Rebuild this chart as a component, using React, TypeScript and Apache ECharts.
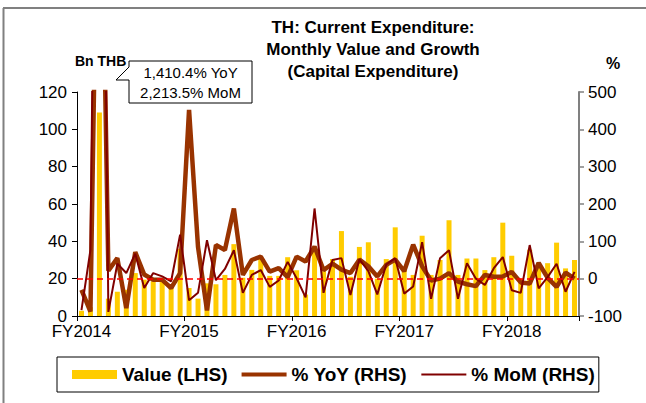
import React, { useEffect, useRef } from "react";
import * as echarts from "echarts";

const months = [
  "Oct-13","Nov-13","Dec-13","Jan-14","Feb-14","Mar-14","Apr-14","May-14","Jun-14","Jul-14","Aug-14","Sep-14",
  "Oct-14","Nov-14","Dec-14","Jan-15","Feb-15","Mar-15","Apr-15","May-15","Jun-15","Jul-15","Aug-15","Sep-15",
  "Oct-15","Nov-15","Dec-15","Jan-16","Feb-16","Mar-16","Apr-16","May-16","Jun-16","Jul-16","Aug-16","Sep-16",
  "Oct-16","Nov-16","Dec-16","Jan-17","Feb-17","Mar-17","Apr-17","May-17","Jun-17","Jul-17","Aug-17","Sep-17",
  "Oct-17","Nov-17","Dec-17","Jan-18","Feb-18","Mar-18","Apr-18","May-18",
];

const fyLabels = ["FY2014", "FY2015", "FY2016", "FY2017", "FY2018"];

const valueBn = [
  2.8, 4.7, 109, 9.3, 13, 14, 23, 19.5, 18.6, 18.6, 16, 36,
  15, 9.3, 17.5, 17, 22, 38.5, 20.5, 24.7, 31, 21.5, 21.5, 31.5,
  24.5, 11.5, 34.5, 24, 30.5, 45.5, 21, 37, 39.5, 20, 30.5, 47.5,
  25, 22, 43, 22, 30, 51.3, 22, 30.8, 30.8, 24.6, 31.5, 50,
  32.3, 20, 35.5, 28.5, 28.3, 39.3, 25.5, 30,
];

const yoyPct = [
  -30, -88, 1410.4, 21, 55, -79, 71, 11, -3, -3, -25, 15,
  452, 85, -85, 90, 77, 188, 10, 50, 59, 19, 28, 4,
  59, 46, 86, 23, 40, 24, 15, 51, 33, 6, 37, 51,
  20, 91, 33, -5, 0, 15, -8, -15, -20, 10, 5, 6,
  18, -10, -13, 42, 2, -22, 16, 0,
];

const momPct = [
  -84, 77, 2213.5, -89, 40, 15, 67, -25, 15, 6, -7, 118,
  -58, -38, 103, -4, 26, 76, -38, 10, 23, -22, -5, 45,
  1, -50, 188, -38, 50, 55, -44, 52, 20, -42, 38, 55,
  -40, -21, 98, -54, 55, 76, -54, 41, 0, -17, 28, 58,
  -31, -38, 90, -26, 4, 40, -35, 18,
];

const leftTicks = { min: 0, max: 120, interval: 20 };
const rightTicks = { min: -100, max: 500, interval: 100 };

const FONT = "'Liberation Sans', Arial, sans-serif";

// legend icons (bounding box 45 x 9 so that line thickness is preserved)
const ICON_THICK = "path://M0,0L0,0M0,2.5L45,2.5L45,6.5L0,6.5ZM45,9L45,9";
const ICON_THIN = "path://M0,0L0,0M0,3.5L45,3.5L45,5.5L0,5.5ZM45,9L45,9";

export default function App() {
  const ref = useRef<HTMLDivElement>(null);

  useEffect(() => {
    if (!ref.current) return;
    const chart = echarts.init(ref.current, null, { renderer: "svg" });
    chart.setOption({
      animation: false,
      backgroundColor: "#ffffff",
      textStyle: { fontFamily: FONT },
      grid: { left: 77, right: 67, top: 92, bottom: 87 },
      legend: {
        left: 57,
        top: 357,
        padding: [8, 4, 8, 15],
        borderColor: "#000",
        borderWidth: 1,
        itemWidth: 45,
        itemHeight: 9,
        itemGap: 14,
        itemStyle: { borderWidth: 0 },
        textStyle: { fontSize: 19, fontWeight: "bold", color: "#000", fontFamily: FONT },
        data: [
          { name: "Value (LHS)", icon: "rect", itemStyle: { color: "#FFCC00" } },
          { name: "% YoY (RHS)", icon: ICON_THICK, itemStyle: { color: "#993300" } },
          { name: "% MoM (RHS)", icon: ICON_THIN, itemStyle: { color: "#800000" } },
        ],
      },
      xAxis: {
        type: "category",
        data: months,
        boundaryGap: true,
        axisLine: { lineStyle: { color: "#000", width: 1 } },
        axisTick: {
          show: true,
          length: 5,
          interval: (i: number) => i % 12 === 0,
          lineStyle: { color: "#000" },
        },
        axisLabel: {
          interval: (i: number) => i % 12 === 0,
          formatter: (_v: string, i: number) => fyLabels[Math.floor(i / 12)] ?? "",
          fontSize: 17,
          color: "#000",
          margin: 7,
          fontFamily: FONT,
        },
        splitLine: { show: false },
      },
      yAxis: [
        {
          type: "value",
          ...leftTicks,
          position: "left",
          axisLine: { show: true, lineStyle: { color: "#000", width: 1 } },
          axisTick: { show: true, length: 5, lineStyle: { color: "#000" } },
          axisLabel: { fontSize: 17, color: "#000", margin: 10, fontFamily: FONT },
          splitLine: { show: false },
        },
        {
          type: "value",
          ...rightTicks,
          position: "right",
          axisLine: { show: true, lineStyle: { color: "#808080", width: 2 } },
          axisTick: { show: true, length: 5, lineStyle: { color: "#808080", width: 1.5 } },
          axisLabel: { fontSize: 17, color: "#000", margin: 9, fontFamily: FONT },
          splitLine: { show: false },
        },
      ],
      series: [
        {
          name: "Value (LHS)",
          type: "bar",
          data: valueBn,
          barWidth: 5,
          itemStyle: { color: "#FFCC00" },
        },
        {
          name: "% YoY (RHS)",
          type: "line",
          yAxisIndex: 1,
          data: yoyPct,
          symbol: "none",
          lineStyle: { color: "#993300", width: 4.5 },
          itemStyle: { color: "#993300" },
          z: 3,
        },
        {
          name: "% MoM (RHS)",
          type: "line",
          yAxisIndex: 1,
          data: momPct,
          symbol: "none",
          lineStyle: { color: "#800000", width: 2 },
          itemStyle: { color: "#800000" },
          z: 4,
          markLine: {
            silent: true,
            symbol: ["none", "none"],
            label: { show: false },
            lineStyle: { color: "#FF0000", type: [6, 4], width: 1.5 },
            data: [{ yAxis: 0 }],
          },
        },
      ],
      graphic: [
        {
          type: "line",
          shape: { x1: 3.5, y1: 8, x2: 3.5, y2: 403 },
          style: { stroke: "#808080", lineWidth: 2 },
        },
        {
          type: "line",
          shape: { x1: 3, y1: 8, x2: 646, y2: 8 },
          style: { stroke: "#808080", lineWidth: 2 },
        },
        {
          type: "text",
          x: 373,
          y: 27,
          style: {
            text: "TH: Current Expenditure:",
            textAlign: "center",
            textVerticalAlign: "middle",
            font: `bold 17px ${FONT}`,
            fill: "#000",
          },
        },
        {
          type: "text",
          x: 373,
          y: 49,
          style: {
            text: "Monthly Value and Growth",
            textAlign: "center",
            textVerticalAlign: "middle",
            font: `bold 17px ${FONT}`,
            fill: "#000",
          },
        },
        {
          type: "text",
          x: 373,
          y: 71,
          style: {
            text: "(Capital Expenditure)",
            textAlign: "center",
            textVerticalAlign: "middle",
            font: `bold 17px ${FONT}`,
            fill: "#000",
          },
        },
        {
          type: "text",
          x: 75,
          y: 61,
          style: {
            text: "Bn THB",
            textAlign: "left",
            textVerticalAlign: "middle",
            font: `bold 14px ${FONT}`,
            fill: "#000",
          },
        },
        {
          type: "text",
          x: 613,
          y: 63,
          style: {
            text: "%",
            textAlign: "center",
            textVerticalAlign: "middle",
            font: `bold 16px ${FONT}`,
            fill: "#000",
          },
        },
        {
          type: "polygon",
          shape: {
            points: [
              [129, 61], [252, 61], [252, 103], [129, 103], [129, 80], [116, 80], [129, 67],
            ],
          },
          style: { fill: "#ffffff", stroke: "#000", lineWidth: 1 },
          z: 10,
        },
        {
          type: "text",
          x: 190.5,
          y: 72,
          z: 11,
          style: {
            text: "1,410.4% YoY",
            textAlign: "center",
            textVerticalAlign: "middle",
            font: `15px ${FONT}`,
            fill: "#000",
          },
        },
        {
          type: "text",
          x: 190.5,
          y: 92,
          z: 11,
          style: {
            text: "2,213.5% MoM",
            textAlign: "center",
            textVerticalAlign: "middle",
            font: `15px ${FONT}`,
            fill: "#000",
          },
        },
      ],
    });
    return () => chart.dispose();
  }, []);

  return (
    <div
      ref={ref}
      style={{ position: "absolute", left: 0, top: 0, width: 646, height: 403, background: "#fff" }}
    />
  );
}
